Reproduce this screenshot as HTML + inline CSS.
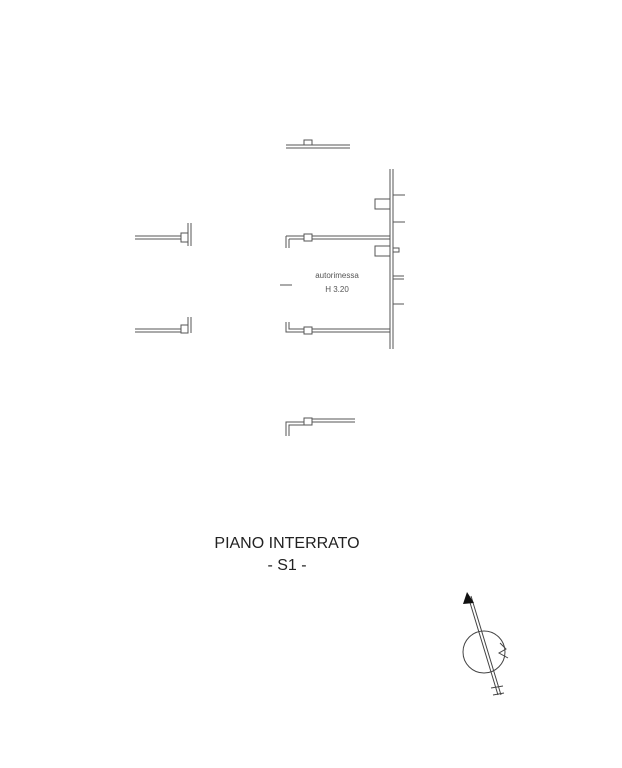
<!DOCTYPE html>
<html><head><meta charset="utf-8"><style>
html,body{margin:0;padding:0;background:#fff;}
svg{display:block;}
</style></head><body>
<svg width="622" height="768" viewBox="0 0 622 768" xmlns="http://www.w3.org/2000/svg" font-family="Liberation Sans, sans-serif">
<g fill="none" stroke="#555" stroke-width="1">
<path d="M286 145 H350 M286 148 H350"/>
<rect x="304" y="140" width="8" height="5" fill="#fff"/>
<path d="M390 169 V349 M393 169 V349"/>
<path d="M305 236 H390 M305 239 H390"/>
<path d="M286 236 H305 M289 239 H305 M286 236 V248 M289 239 V248"/>
<rect x="304" y="234" width="8" height="7" fill="#fff"/>
<path d="M305 329 H390 M305 332 H390"/>
<path d="M286 322 V332 H305 M289 322 V329 H305"/>
<rect x="304" y="327" width="8" height="7" fill="#fff"/>
<path d="M135 236 H181 M135 239 H181"/>
<path d="M188 223 V246 M191 223 V246"/>
<rect x="181" y="233" width="7" height="9" fill="#fff"/>
<path d="M135 329 H181 M135 332 H181"/>
<path d="M188 317 V333 M191 317 V333"/>
<rect x="181" y="325" width="7" height="8" fill="#fff"/>
<path d="M305 419 H355 M305 422 H355"/>
<path d="M286 436 V422 H305 M289 436 V425 H305"/>
<rect x="304" y="418" width="8" height="7" fill="#fff"/>
<rect x="375" y="199" width="15" height="10" fill="#fff"/>
<rect x="375" y="246" width="15" height="10" fill="#fff"/>
<path d="M393 195 H405 M393 222 H405 M393 276 H404 M393 279 H404 M393 304 H404 M393 248 H399 V252 H393"/>
<path d="M280 285 H292"/>
</g>
<text x="337" y="278" font-size="8" fill="#555" text-anchor="middle">autorimessa</text>
<text x="337" y="292" font-size="8" fill="#555" text-anchor="middle">H 3.20</text>
<text x="287" y="548" font-size="16" fill="#222" text-anchor="middle">PIANO INTERRATO</text>
<text x="287" y="570" font-size="16" fill="#222" text-anchor="middle">- S1 -</text>
<g fill="none" stroke="#444" stroke-width="1">
<circle cx="484" cy="652" r="21"/>
<path d="M468 596 L498 695 M471 596 L501 695"/>
<path d="M500 643 L506 649 L499 653 L508 658"/>
<path d="M491 688 L503 686 M493 695 L504 693"/>
</g>
<polygon points="467,592 463,604 474,603" fill="#111"/>
</svg>
</body></html>
